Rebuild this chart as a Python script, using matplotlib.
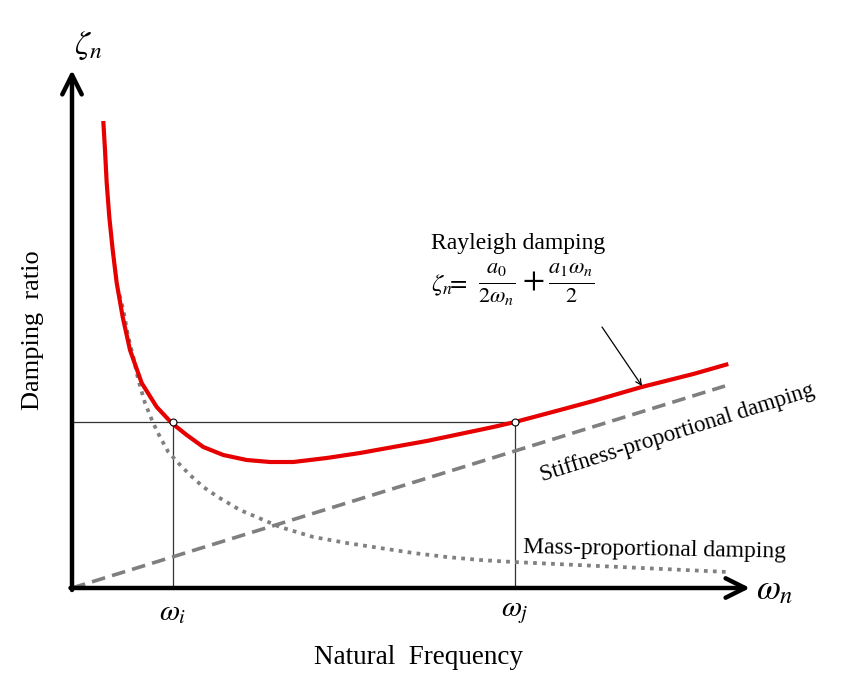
import numpy as np
import matplotlib.pyplot as plt

plt.rcParams['font.family'] = ['Liberation Serif', 'DejaVu Serif']
plt.rcParams['mathtext.fontset'] = 'stix'

# Rayleigh damping curve
w_ray = [0.313, 0.33, 0.347, 0.373, 0.407, 0.447, 0.507, 0.58, 0.697, 0.847, 0.997, 1.147, 1.313,
         1.513, 1.747, 1.98, 2.213, 2.547, 2.88, 3.213, 3.547, 3.88, 4.213, 4.43, 4.88, 5.213,
         5.697, 6.213, 6.563]
z_ray = [0.467, 0.438, 0.405, 0.371, 0.338, 0.305, 0.271, 0.238, 0.205, 0.181, 0.165, 0.153, 0.141,
         0.133, 0.128, 0.126, 0.126, 0.130, 0.135, 0.141, 0.147, 0.154, 0.161, 0.166, 0.178, 0.187,
         0.201, 0.214, 0.224]

# mass-proportional part
w_mass = [0.475, 0.513, 0.563, 0.613, 0.663, 0.73, 0.807, 0.88, 0.963, 1.063, 1.18, 1.313, 1.46,
          1.68, 2.08, 2.413, 2.747, 3.08, 3.413, 3.747, 4.08, 4.413, 5.48, 6.56]
z_mass = [0.293, 0.278, 0.251, 0.231, 0.208, 0.185, 0.166, 0.151, 0.136, 0.125, 0.113, 0.101, 0.091,
          0.078, 0.061, 0.051, 0.045, 0.040, 0.035, 0.031, 0.028, 0.026, 0.021, 0.016]

# stiffness-proportional part
w_stiff = [0.0, 6.53]
z_stiff = [0.0, 0.202]

# target frequencies and damping ratio
w_i, w_j = 1.01, 4.43
z_target = 0.166

fig = plt.figure(figsize=(8.42, 6.93), dpi=100)
ax = fig.add_axes([0, 0, 1, 1])
ax.set_xlim(-0.72, 7.70)
ax.set_ylim(-0.105, 0.588)
ax.axis('off')

# axes with arrows
arrow = dict(arrowstyle='->,head_length=0.7,head_width=0.35', lw=3.2, color='black',
             mutation_scale=20, shrinkA=0, shrinkB=0)
ax.annotate('', xy=(6.78, 0), xytext=(-0.015, 0), arrowprops=arrow)
ax.annotate('', xy=(0, 0.518), xytext=(0, -0.002), arrowprops=arrow)

# guide lines
ax.plot([0, w_j], [z_target, z_target], color='#333333', lw=0.9)
ax.plot([w_i, w_i], [0, z_target], color='#333333', lw=0.9)
ax.plot([w_j, w_j], [0, z_target], color='#333333', lw=0.9)

# curves
ax.plot(w_mass, z_mass, color='#808080', lw=2.7, linestyle=(0, (1, 1.4)))
ax.plot(w_stiff, z_stiff, color='#7f7f7f', lw=2.6, linestyle=(0, (3.8, 2.0)))
ax.plot(w_ray, z_ray, color='#e60000', lw=3.0, solid_capstyle='butt', solid_joinstyle='round')
ax.plot([w_i, w_j], [z_target, z_target], 'o', ms=5, mfc='white', mec='black', mew=0.8)

# text
ax.text(0.16, 0.543, r'$\zeta_n$', fontsize=24, ha='center', va='center')
ax.text(7.03, -0.003, r'$\omega_n$', fontsize=25, ha='center', va='center')
ax.text(w_i, -0.025, r'$\omega_i$', fontsize=21, ha='center', va='center')
ax.text(w_j, -0.025, r'$\omega_j$', fontsize=21, ha='center', va='center')
ax.text(3.46, -0.069, 'Natural  Frequency', fontsize=19.5, ha='center', va='center')
ax.text(-0.39, 0.258, 'Damping  ratio', fontsize=19, ha='center', va='center', rotation=90)

ax.text(3.59, 0.345, 'Rayleigh damping', fontsize=17, ha='left', va='center')
ax.text(3.59, 0.303, r'$\zeta_n\!\!=$', fontsize=18, ha='left', va='center')
ax.text(4.06, 0.303, r'$\frac{a_0}{2\omega_n}+\frac{a_1\omega_n}{2}$', fontsize=23,
        ha='left', va='center')
ax.annotate('', xy=(5.70, 0.202), xytext=(5.30, 0.261),
            arrowprops=dict(arrowstyle='->', lw=0.9, color='black', shrinkA=0, shrinkB=0))

ax.text(6.05, 0.155, 'Stiffness-proportional damping', fontsize=16.5, ha='center', va='center',
        rotation=17.5)
ax.text(5.83, 0.038, 'Mass-proportional damping', fontsize=17, ha='center', va='center',
        rotation=-1)

fig.savefig('out.png', dpi=100)
